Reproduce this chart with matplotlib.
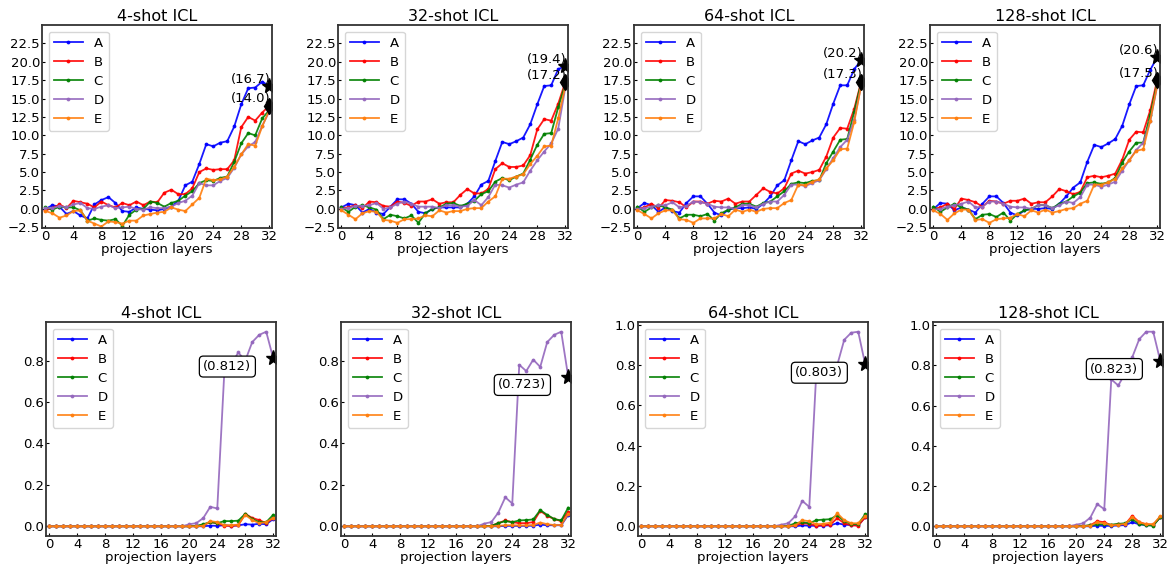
import matplotlib
matplotlib.use("Agg")
import matplotlib.pyplot as plt
import numpy as np

layers = list(range(33))
names = ["A", "B", "C", "D", "E"]
colors = ["blue", "red", "green", "tab:purple", "tab:orange"]
shots = ["4-shot ICL", "32-shot ICL", "64-shot ICL", "128-shot ICL"]

# ---- top row: logit-lens style scores per layer ----
top_4 = {
    "A": [0.0, 0.5, 0.3, -0.7, -0.3, -0.9, -1.3, 0.6, 1.2, 1.6, 0.8, -0.3, -0.4, 0.2, 0.0, -0.1, -0.2, 0.0, 0.3, 1.1, 3.2, 3.7, 6.1, 8.8, 8.5, 9.0, 9.2, 11.2, 14.2, 16.4, 16.5, 17.3, 16.7],
    "B": [-0.2, 0.1, 0.6, 0.1, 1.1, 0.9, 0.7, 0.2, 1.0, 0.5, 0.2, 0.8, 0.5, 1.0, 0.5, 1.0, 0.9, 2.2, 2.6, 2.0, 2.0, 2.8, 5.0, 5.5, 5.3, 5.4, 5.4, 6.6, 11.1, 12.5, 12.0, 13.1, 14.0],
    "C": [0.2, -0.1, 0.3, 0.2, 0.2, -0.2, -1.6, -1.3, -1.5, -1.6, -1.4, -2.3, -0.8, -0.1, 0.0, 1.0, 0.8, 0.3, 0.8, 1.1, 1.8, 2.4, 3.5, 3.9, 3.8, 4.2, 4.4, 6.4, 8.9, 10.3, 10.0, 12.3, 13.4],
    "D": [0.1, 0.1, 0.4, 0.2, 0.6, 0.8, 0.1, 0.0, 0.3, 0.5, 0.1, 0.2, 0.3, 0.0, -0.1, 0.2, 0.1, 0.1, 0.3, 0.8, 1.1, 1.8, 3.5, 3.2, 3.2, 3.8, 4.2, 5.6, 7.4, 8.5, 9.1, 11.3, 13.2],
    "E": [-0.3, -0.6, -1.2, -0.9, -0.3, -0.2, -1.6, -2.0, -2.4, -1.7, -1.8, -2.0, -1.6, -1.6, -0.9, -0.7, -0.5, -0.4, 0.2, -0.1, -0.3, 0.6, 1.5, 4.1, 3.9, 4.0, 4.4, 5.7, 7.4, 8.8, 8.6, 11.2, 13.4],
}
top_32 = {
    "A": [0.2, 0.7, 0.5, -0.5, 0.0, -0.5, -0.7, 0.3, 1.3, 1.3, 0.7, -0.4, -0.6, 0.0, 0.2, 0.2, 0.2, 0.2, 0.7, 1.7, 3.3, 3.8, 6.5, 9.1, 8.8, 9.2, 9.7, 11.5, 14.2, 16.7, 16.8, 19.0, 19.4],
    "B": [0.1, 0.2, 0.5, 0.1, 1.0, 0.9, 0.4, 0.3, 1.0, 0.8, 0.4, 1.0, 1.0, 1.3, 0.7, 0.9, 0.9, 1.9, 2.7, 2.1, 2.1, 2.7, 5.4, 6.2, 5.7, 5.7, 5.9, 7.3, 10.8, 12.2, 12.0, 14.3, 17.2],
    "C": [0.2, -0.4, 0.3, 0.5, 0.2, -0.1, -1.4, -0.8, -1.0, -1.3, -0.9, -1.9, -0.6, 0.0, 0.2, 0.7, 0.8, 0.4, 0.7, 1.1, 2.0, 2.4, 3.7, 4.2, 3.9, 4.4, 4.8, 6.7, 8.7, 10.2, 10.3, 13.8, 16.9],
    "D": [0.0, 0.1, 0.4, 0.4, 0.5, 0.8, 0.0, 0.2, 0.7, 1.0, 0.7, 0.3, 0.3, 0.3, 0.1, 0.5, 0.5, 0.3, 0.4, 1.2, 0.5, 1.6, 3.3, 3.2, 2.9, 3.3, 3.6, 5.2, 6.6, 7.8, 8.9, 10.9, 16.4],
    "E": [-0.2, -0.8, -1.4, -0.6, -0.3, -0.4, -1.5, -1.6, -1.9, -1.4, -1.4, -1.3, -0.9, -1.0, -0.2, -0.5, -0.3, -0.3, 0.0, 0.1, 0.1, 1.0, 1.7, 4.1, 4.1, 4.4, 4.7, 6.1, 7.2, 8.5, 8.6, 12.3, 16.6],
}
top_64 = {
    "A": [0.1, 0.8, 0.5, -0.4, 0.2, -0.3, -0.5, 0.8, 1.7, 1.7, 0.7, -0.5, -0.9, -0.1, 0.1, 0.1, 0.2, 0.0, 0.7, 1.7, 3.2, 3.9, 6.6, 9.2, 8.8, 9.3, 9.7, 11.5, 14.3, 16.8, 16.8, 19.0, 20.2],
    "B": [0.0, 0.2, 0.7, 0.1, 1.2, 1.1, 0.9, 0.2, 1.0, 1.0, 0.7, 1.1, 1.0, 1.4, 0.7, 1.0, 1.0, 1.9, 2.8, 2.3, 2.1, 2.8, 4.8, 5.2, 4.8, 5.0, 5.3, 7.1, 9.7, 11.0, 10.9, 13.6, 17.3],
    "C": [0.3, -0.4, 0.2, 0.5, 0.2, -0.1, -1.3, -0.8, -0.8, -1.0, -0.7, -1.6, -0.6, -0.1, 0.2, 0.7, 0.7, 0.3, 0.8, 1.0, 1.7, 2.4, 3.4, 3.6, 3.5, 3.8, 3.9, 6.2, 7.8, 9.4, 9.5, 13.2, 17.2],
    "D": [0.0, 0.1, 0.3, 0.5, 0.5, 0.9, 0.2, 0.4, 1.0, 0.9, 0.7, 0.3, 0.2, 0.2, 0.0, 0.5, 0.5, 0.2, 0.7, 1.0, 1.0, 1.9, 3.3, 3.3, 3.1, 3.5, 3.9, 5.4, 6.9, 8.4, 9.4, 12.1, 16.8],
    "E": [-0.2, -0.7, -1.3, -0.6, -0.2, -0.2, -1.4, -1.5, -1.9, -1.3, -1.3, -1.3, -0.7, -1.0, -0.1, -0.4, -0.1, -0.4, 0.0, 0.1, 0.1, 0.8, 1.2, 3.3, 3.2, 3.7, 4.0, 5.5, 6.6, 8.1, 8.2, 11.8, 16.8],
}
top_128 = {
    "A": [0.0, 0.8, 0.7, -0.2, 0.2, -0.1, -0.5, 0.7, 1.7, 1.7, 0.8, -0.5, -0.9, -0.2, 0.0, 0.0, 0.1, 0.0, 0.7, 1.7, 2.9, 3.6, 6.4, 8.7, 8.4, 8.9, 9.5, 11.3, 14.2, 16.7, 16.8, 18.9, 20.6],
    "B": [0.0, 0.2, 0.7, 0.0, 1.4, 1.2, 0.9, 0.3, 1.1, 1.0, 0.7, 1.1, 1.1, 1.4, 0.7, 0.9, 0.9, 1.7, 2.7, 2.4, 2.0, 2.3, 4.3, 4.5, 4.3, 4.5, 4.8, 6.7, 9.4, 10.5, 10.4, 13.4, 17.5],
    "C": [0.3, -0.4, 0.2, 0.7, 0.2, -0.1, -1.4, -0.8, -0.7, -1.1, -0.5, -1.6, -0.7, -0.2, 0.0, 0.5, 0.5, 0.1, 0.7, 1.0, 1.7, 2.2, 3.5, 3.6, 3.4, 3.6, 4.2, 6.3, 7.8, 9.0, 9.0, 12.8, 17.1],
    "D": [-0.1, 0.0, 0.3, 0.5, 0.7, 1.0, 0.2, 0.3, 1.0, 1.0, 0.7, 0.3, 0.2, 0.2, 0.0, 0.5, 0.5, 0.1, 0.5, 1.0, 0.8, 1.6, 3.3, 3.3, 3.0, 3.3, 3.7, 5.2, 6.6, 8.0, 9.0, 11.9, 16.7],
    "E": [-0.2, -0.7, -1.5, -0.6, -0.1, -0.1, -1.5, -1.4, -1.9, -1.4, -1.3, -1.2, -0.7, -1.0, -0.2, -0.5, -0.1, -0.5, -0.3, 0.0, 0.1, 0.7, 1.1, 3.3, 3.3, 3.6, 4.1, 5.5, 6.6, 7.9, 8.1, 12.0, 16.8],
}

# ---- bottom row: probabilities per layer (zero up to layer 19) ----
Z = [0.0] * 20
bot_4 = {
    "A": Z + [0.0, 0.0, 0.0, 0.003, 0.002, 0.005, 0.002, 0.004, 0.010, 0.008, 0.012, 0.010, 0.035],
    "B": Z + [0.0, 0.0, 0.005, 0.020, 0.015, 0.003, 0.002, 0.005, 0.060, 0.040, 0.030, 0.015, 0.040],
    "C": Z + [0.0, 0.002, 0.010, 0.020, 0.015, 0.025, 0.025, 0.027, 0.060, 0.035, 0.020, 0.020, 0.055],
    "D": Z + [0.010, 0.015, 0.040, 0.094, 0.086, 0.740, 0.780, 0.840, 0.800, 0.890, 0.925, 0.940, 0.812],
    "E": Z + [0.0, 0.0, 0.003, 0.025, 0.020, 0.005, 0.005, 0.008, 0.055, 0.030, 0.015, 0.020, 0.040],
}
bot_32 = {
    "A": Z + [0.0, 0.0, 0.0, 0.002, 0.002, 0.002, 0.002, 0.003, 0.008, 0.005, 0.005, 0.005, 0.055],
    "B": Z + [0.0, 0.002, 0.015, 0.028, 0.020, 0.015, 0.015, 0.020, 0.075, 0.050, 0.035, 0.025, 0.070],
    "C": Z + [0.0, 0.002, 0.015, 0.025, 0.020, 0.028, 0.030, 0.033, 0.078, 0.055, 0.035, 0.028, 0.090],
    "D": Z + [0.013, 0.020, 0.066, 0.140, 0.110, 0.780, 0.750, 0.805, 0.770, 0.890, 0.925, 0.940, 0.723],
    "E": Z + [0.0, 0.0, 0.002, 0.005, 0.005, 0.004, 0.004, 0.006, 0.018, 0.010, 0.006, 0.006, 0.060],
}
bot_64 = {
    "A": Z + [0.0, 0.0, 0.0, 0.004, 0.003, 0.002, 0.003, 0.005, 0.015, 0.008, 0.006, 0.005, 0.045],
    "B": Z + [0.0, 0.0, 0.005, 0.015, 0.012, 0.003, 0.005, 0.008, 0.040, 0.015, 0.005, 0.003, 0.045],
    "C": Z + [0.0, 0.002, 0.015, 0.020, 0.015, 0.030, 0.033, 0.035, 0.055, 0.025, 0.012, 0.010, 0.060],
    "D": Z + [0.008, 0.015, 0.050, 0.126, 0.096, 0.760, 0.740, 0.780, 0.800, 0.925, 0.960, 0.965, 0.803],
    "E": Z + [0.0, 0.0, 0.005, 0.030, 0.025, 0.010, 0.012, 0.018, 0.065, 0.030, 0.015, 0.015, 0.050],
}
bot_128 = {
    "A": Z + [0.0, 0.0, 0.0, 0.003, 0.002, 0.002, 0.004, 0.006, 0.020, 0.010, 0.006, 0.005, 0.045],
    "B": Z + [0.0, 0.0, 0.005, 0.025, 0.020, 0.005, 0.010, 0.010, 0.052, 0.020, 0.010, 0.008, 0.045],
    "C": Z + [0.0, 0.002, 0.005, 0.010, 0.010, 0.008, 0.012, 0.015, 0.035, 0.012, 0.005, 0.003, 0.045],
    "D": Z + [0.008, 0.015, 0.043, 0.110, 0.085, 0.730, 0.700, 0.760, 0.840, 0.930, 0.967, 0.967, 0.823],
    "E": Z + [0.0, 0.0, 0.003, 0.020, 0.015, 0.005, 0.008, 0.012, 0.045, 0.020, 0.010, 0.010, 0.050],
}

top_data = [top_4, top_32, top_64, top_128]
bot_data = [bot_4, bot_32, bot_64, bot_128]

plt.rcParams["font.family"] = "DejaVu Sans"

fig = plt.figure(figsize=(11.73, 5.68), dpi=100)
W = 1173.0
H = 568.0
top_lefts = [42, 338, 634, 930]
bot_lefts = [46, 341, 638, 933]


def style_axes(ax):
    ax.set_xlim(-0.5, 32.4)
    ax.set_xticks(range(0, 33, 4))
    ax.tick_params(direction="in", length=2, pad=1.5, labelsize=9.5)
    for s in ax.spines.values():
        s.set_linewidth(1.3)
        s.set_color("#333333")
    ax.set_xlabel("projection layers", fontsize=9.5, labelpad=0)


def draw_lines(ax, data):
    for name, c in zip(names, colors):
        ax.plot(layers, data[name], color=c, marker=".", markersize=3.5,
                linewidth=1.3, alpha=0.9, label=name)
    ax.legend(loc="upper left", fontsize=9.5, handlelength=2.2,
              borderaxespad=0.5, labelspacing=0.45)


for i in range(4):
    # top panel
    ax = fig.add_axes([top_lefts[i] / W, 340 / H, 230 / W, 203 / H])
    d = top_data[i]
    draw_lines(ax, d)
    ax.set_ylim(-2.6, 25)
    ax.set_yticks(np.arange(-2.5, 23, 2.5))
    style_axes(ax)
    ax.set_title(shots[i], fontsize=11.5, pad=3)
    a_end = d["A"][-1]
    rest_end = max(d[n][-1] for n in names[1:])
    ax.plot([32], [a_end], marker="*", color="black", markersize=11)
    ax.plot([32], [rest_end], marker="d", color="black", markersize=8)
    for v in (a_end, rest_end):
        ax.annotate(f"({v:.1f})", xy=(32, v), xytext=(1, 5),
                    textcoords="offset points", ha="right", va="center",
                    fontsize=9.5)

    # bottom panel
    ax = fig.add_axes([bot_lefts[i] / W, 32 / H, 230 / W, 214 / H])
    d = bot_data[i]
    draw_lines(ax, d)
    style_axes(ax)
    ax.set_title(shots[i], fontsize=11.5, pad=3)
    d_end = d["D"][-1]
    ax.plot([32], [d_end], marker="*", color="black", markersize=11)
    ax.annotate(f"({d_end:.3f})", xy=(32, d_end), xytext=(-33, -6),
                textcoords="offset points", ha="center", va="center",
                fontsize=9.5,
                bbox=dict(boxstyle="round,pad=0.3", fc="white", ec="black", lw=0.9))

fig.savefig("out.png", dpi=100)
